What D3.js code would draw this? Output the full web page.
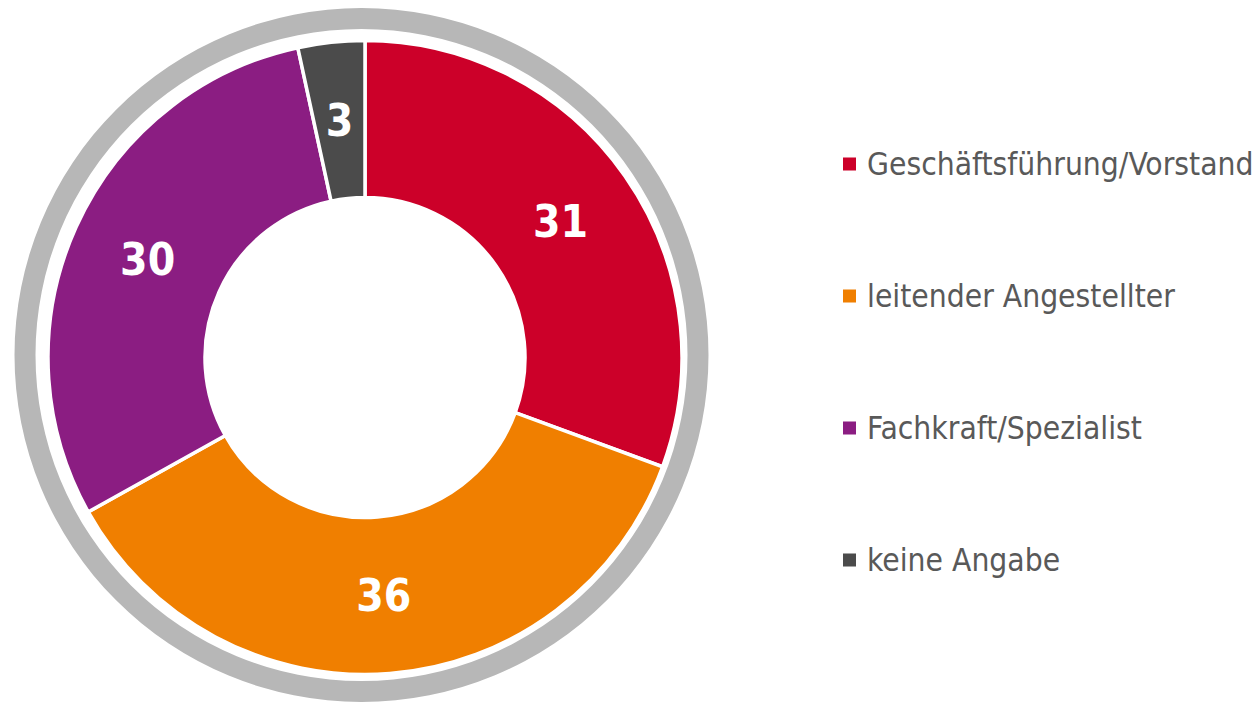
<!DOCTYPE html>
<html>
<head>
<meta charset="utf-8">
<script src="https://cdn.jsdelivr.net/npm/d3@7"></script>
<style>
  html, body { margin: 0; padding: 0; background: #fff; }
  svg { display: block; }
</style>
</head>
<body>
<svg id="chart" width="1256" height="703"></svg>
<script>
const categories = ["Geschäftsführung/Vorstand", "leitender Angestellter", "Fachkraft/Spezialist", "keine Angabe"];
// shares (%); labels show them rounded
const values = [30.6, 36.3, 29.7, 3.4];
const colors = ["#CC0029", "#F07F00", "#8B1D82", "#4B4B4B"];

const svg = d3.select("#chart");

const labelFont = "'DejaVu Sans Condensed', 'DejaVu Sans', sans-serif";
const legendFont = "'DejaVu Sans Condensed', 'DejaVu Sans', sans-serif";

// outer grey ring
const ring = svg.append("g").attr("transform", "translate(361.5,355)");
ring.append("path")
  .attr("d", d3.arc()({ innerRadius: 326, outerRadius: 347, startAngle: 0, endAngle: 2 * Math.PI }))
  .attr("fill", "#B7B7B7");

// donut
const g = svg.append("g").attr("transform", "translate(365,357.5)");
const pie = d3.pie().sort(null).value(d => d.value);
const data = categories.map((c, i) => ({ name: c, value: values[i], color: colors[i] }));
const arcs = pie(data);
const arc = d3.arc().innerRadius(160).outerRadius(317);

g.selectAll("path.slice")
  .data(arcs)
  .enter().append("path")
  .attr("class", "slice")
  .attr("d", arc)
  .attr("fill", d => d.data.color)
  .attr("stroke", "#fff")
  .attr("stroke-width", 3.5)
  .attr("stroke-linejoin", "miter");

g.selectAll("text.lbl")
  .data(arcs)
  .enter().append("text")
  .attr("class", "lbl")
  .attr("x", d => arc.centroid(d)[0])
  .attr("y", d => arc.centroid(d)[1])
  .attr("dy", "0.36em")
  .attr("text-anchor", "middle")
  .attr("font-family", labelFont)
  .attr("font-weight", "bold")
  .attr("font-size", 44)
  .attr("fill", "#fff")
  .text(d => Math.round(d.data.value));

// legend
const legendY = d3.scalePoint().domain(categories).range([164, 560]);
const leg = svg.append("g");
const items = leg.selectAll("g.item")
  .data(data)
  .enter().append("g")
  .attr("class", "item")
  .attr("transform", d => `translate(843,${legendY(d.name)})`);

items.append("rect")
  .attr("x", 0).attr("y", -6.5)
  .attr("width", 13).attr("height", 13)
  .attr("fill", d => d.color);

items.append("text")
  .attr("x", 24)
  .attr("y", 0)
  .attr("dy", "0.36em")
  .attr("font-family", legendFont)
  .attr("font-size", 31.5)
  .attr("fill", "#595959")
  .text(d => d.name);
</script>
</body>
</html>
